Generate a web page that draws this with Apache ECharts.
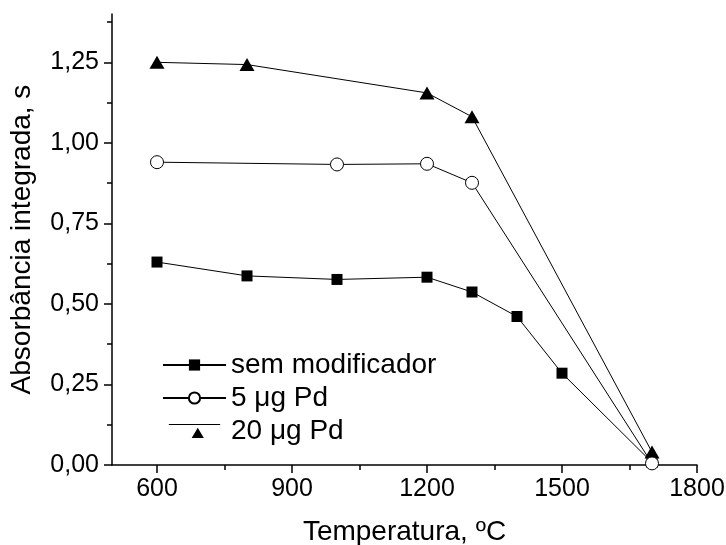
<!DOCTYPE html>
<html>
<head>
    <meta charset="UTF-8"/>
    <script type="text/javascript" src="https://cdn.jsdelivr.net/npm/echarts@6/dist/echarts.min.js"></script>
    <style>
        html, body { margin: 0; padding: 0; background: #fff; }
        #main { width: 726px; height: 545px; }
    </style>
</head>
<body>
<div id="main"></div>
<script type="text/javascript">
    // dados
    var tempSem = [600, 800, 1000, 1200, 1300, 1400, 1500, 1700];
    var absSem = [0.630, 0.587, 0.576, 0.583, 0.537, 0.461, 0.285, 0.008];
    var temp5 = [600, 1000, 1200, 1300, 1700];
    var abs5 = [0.940, 0.933, 0.935, 0.876, 0.005];
    var temp20 = [600, 800, 1200, 1300, 1700];
    var abs20 = [1.250, 1.243, 1.155, 1.081, 0.040];

    var xTicks = [600, 900, 1200, 1500, 1800];
    var xMinor = [750, 1050, 1350, 1650];
    var yTicks = [0, 0.25, 0.5, 0.75, 1.0, 1.25];
    var yMinor = [0.125, 0.375, 0.625, 0.875, 1.125, 1.375];

    var names = ['sem modificador', '5 \u03bcg Pd', '20 \u03bcg Pd'];
    var font = 'Liberation Sans, Arial, sans-serif';

    function pairs(xs, ys) {
        var out = [];
        for (var i = 0; i < xs.length; i++) out.push([xs[i], ys[i]]);
        return out;
    }

    var myChart = echarts.init(document.getElementById('main'));

    var blackLine = { color: '#000', width: 1.5 };

    var option = {
        animation: false,
        backgroundColor: '#fff',
        grid: { left: 112, right: 29, top: 14, bottom: 80, outerBoundsMode: 'none' },
        legend: {
            left: 162,
            top: 351,
            padding: 0,
            orient: 'vertical',
            itemWidth: 63,
            itemHeight: 14,
            itemGap: 5,
            textStyle: { fontSize: 28, color: '#000', fontFamily: font },
            data: [
                { name: names[0] },
                { name: names[1] },
                { name: names[2], icon: 'path://M0,0H55V1.2H0Z M31,4L37.5,15L24.5,15Z' }
            ]
        },
        xAxis: [{
            type: 'value',
            min: 500,
            max: 1800,
            name: 'Temperatura, \u00baC',
            nameLocation: 'middle',
            nameGap: 53,
            nameTextStyle: { fontSize: 28, color: '#000', fontFamily: font },
            axisLine: { show: true, lineStyle: blackLine },
            splitLine: { show: false },
            axisTick: { show: true, length: 8, customValues: xTicks, lineStyle: blackLine },
            axisLabel: {
                customValues: xTicks,
                margin: 12,
                fontSize: 25,
                color: '#000',
                fontFamily: font,
                formatter: function (v) { return String(v); }
            }
        }, {
            type: 'value',
            min: 500,
            max: 1800,
            position: 'bottom',
            axisLine: { show: false },
            splitLine: { show: false },
            axisTick: { show: true, length: 5, customValues: xMinor, lineStyle: blackLine },
            axisLabel: { show: false }
        }],
        yAxis: [{
            type: 'value',
            min: 0,
            max: 1.4,
            name: 'Absorb\u00e2ncia integrada, s',
            nameLocation: 'middle',
            nameGap: 76,
            nameTextStyle: { fontSize: 28, color: '#000', fontFamily: font },
            axisLine: { show: true, lineStyle: blackLine },
            splitLine: { show: false },
            axisTick: { show: true, length: 8, customValues: yTicks, lineStyle: blackLine },
            axisLabel: {
                customValues: yTicks,
                margin: 13,
                fontSize: 25,
                color: '#000',
                fontFamily: font,
                formatter: function (v) { return v.toFixed(2).replace('.', ','); }
            }
        }, {
            type: 'value',
            min: 0,
            max: 1.4,
            position: 'left',
            axisLine: { show: false },
            splitLine: { show: false },
            axisTick: { show: true, length: 5, customValues: yMinor, lineStyle: blackLine },
            axisLabel: { show: false }
        }],
        series: [{
            name: names[0],
            type: 'line',
            data: pairs(tempSem, absSem),
            symbol: 'rect',
            symbolSize: 11,
            lineStyle: { color: '#000', width: 1 },
            itemStyle: { color: '#000' },
            z: 2
        }, {
            name: names[1],
            type: 'line',
            data: pairs(temp5, abs5),
            symbol: 'circle',
            symbolSize: 13,
            lineStyle: { color: '#000', width: 1 },
            itemStyle: { color: '#fff', borderColor: '#000', borderWidth: 1 },
            z: 4
        }, {
            name: names[2],
            type: 'line',
            data: pairs(temp20, abs20),
            symbol: 'triangle',
            symbolSize: [15, 13],
            lineStyle: { color: '#000', width: 1 },
            itemStyle: { color: '#000' },
            z: 3
        }]
    };

    myChart.setOption(option);
</script>
</body>
</html>
